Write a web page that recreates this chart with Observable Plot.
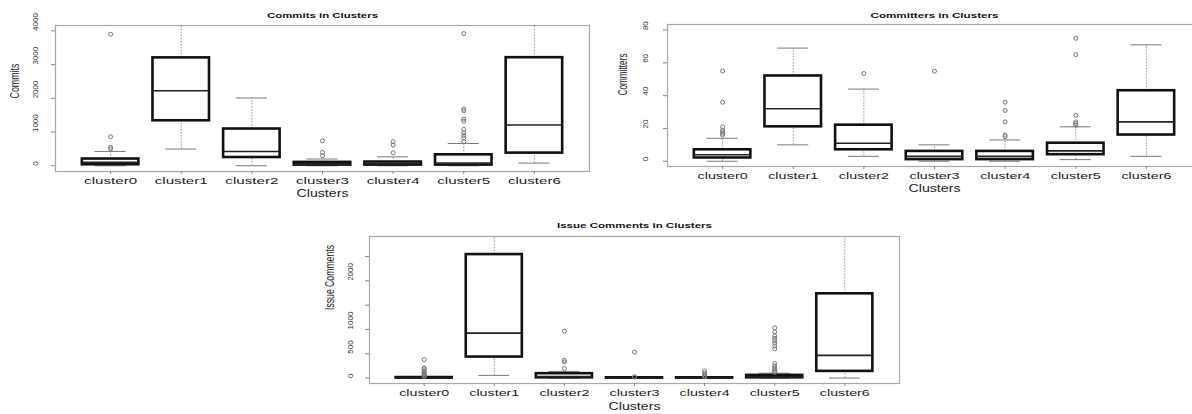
<!DOCTYPE html>
<html>
<head>
<meta charset="utf-8">
<script src="https://cdn.jsdelivr.net/npm/d3@7"></script>
<script src="https://cdn.jsdelivr.net/npm/@observablehq/plot@0.6"></script>
<style>
  html, body { margin: 0; padding: 0; background: #fff; }
  #wrap { position: relative; width: 1192px; height: 414px; overflow: hidden; background: #fff; }
  #wrap svg { position: absolute; overflow: visible; }
</style>
</head>
<body>
<div id="wrap"></div>
<script>
// ---------- data ----------
const clusters = ["cluster0", "cluster1", "cluster2", "cluster3", "cluster4", "cluster5", "cluster6"];

// Commits in Clusters
const commitsLow    = [0, 495, 0, 0, 0, 0, 80];
const commitsQ1     = [30, 1335, 245, 20, 20, 20, 375];
const commitsMedian = [100, 2225, 425, 50, 60, 80, 1210];
const commitsQ3     = [200, 3200, 1090, 100, 110, 325, 3205];
const commitsHigh   = [425, 5500, 2010, 200, 265, 660, 5500];
const commitsOutliers = [
  [500, 545, 860, 3900],
  [],
  [],
  [300, 395, 740],
  [385, 615, 715],
  [720, 830, 900, 980, 1080, 1320, 1385, 1630, 1680, 3920],
  []
];
const commitsTicks = [0, 1000, 2000, 3000, 4000];
const commitsTickLabels = ["0", "1000", "2000", "3000", "4000"];

// Committers in Clusters
const committersLow    = [0, 10, 3, 0, 0, 1, 3];
const committersQ1     = [2, 21, 7, 1, 1, 4, 16];
const committersMedian = [4, 32, 11, 3, 3, 6.3, 24];
const committersQ3     = [7, 52, 22, 6, 6, 11, 43];
const committersHigh   = [14, 69, 44, 10, 13, 21, 71];
const committersOutliers = [
  [16, 17, 18, 19, 21, 36, 55],
  [],
  [53.5],
  [55],
  [15, 16, 24, 31, 36],
  [22, 23, 24, 28, 65, 75],
  []
];
const committersTicks = [0, 20, 40, 60, 80];
const committersTickLabels = ["0", "20", "40", "60", "80"];

// Issue Comments in Clusters
const issueLow    = [0, 55, 0, 0, 0, 0, 0];
const issueQ1     = [0, 432, 5, 0, 0, 5, 137];
const issueMedian = [2, 925, 30, 0, 0, 20, 466];
const issueQ3     = [10, 2540, 90, 5, 5, 55, 1733];
const issueHigh   = [25, 4500, 137, 10, 10, 100, 4500];
const issueOutliers = [
  [30, 40, 50, 60, 80, 100, 120, 150, 190, 210, 380],
  [],
  [195, 330, 365, 965],
  [20, 25, 535],
  [25, 40, 60, 100, 145],
  [115, 130, 160, 200, 250, 300, 600, 660, 720, 770, 820, 870, 950, 1035],
  []
];
const issueTicks = [0, 500, 1000, 1500, 2000, 2500];
const issueTickLabels = ["0", "500", "1000", "", "2000", ""];

// ---------- drawing ----------
const FONT = "'Liberation Sans', Arial, Helvetica, sans-serif";

function panel(cfg) {
  const rows = clusters.map((c, i) => ({
    i: i + 1, name: c,
    lo: cfg.low[i], q1: cfg.q1[i], med: cfg.med[i], q3: cfg.q3[i], hi: cfg.high[i]
  }));
  const pts = cfg.outliers.flatMap((arr, i) => arr.map(v => ({i: i + 1, v})));
  const tickRows = cfg.ticks.map((t, k) => ({t, label: cfg.tickLabels[k]})).filter(d => d.label !== "");

  const svg = Plot.plot({
    width: cfg.width,
    height: cfg.height,
    marginLeft: cfg.margin.left,
    marginRight: cfg.margin.right,
    marginTop: cfg.margin.top,
    marginBottom: cfg.margin.bottom,
    style: {fontFamily: FONT, background: "transparent", color: "#000"},
    x: {domain: [0.22, 7.78], axis: null},
    y: {domain: cfg.domain, axis: null},
    marks: [
      Plot.frame({stroke: "#a8a8a8", strokeWidth: 1.2}),
      // whiskers
      Plot.ruleX(rows, {x: "i", y1: "q3", y2: "hi", stroke: "#8a8a8a", strokeWidth: 0.9, strokeDasharray: "1.5,1.5", clip: true}),
      Plot.ruleX(rows, {x: "i", y1: "lo", y2: "q1", stroke: "#8a8a8a", strokeWidth: 0.9, strokeDasharray: "1.5,1.5", clip: true}),
      // staples
      Plot.ruleY(rows, {y: "hi", x1: d => d.i - 0.22, x2: d => d.i + 0.22, stroke: "#7a7a7a", strokeWidth: 1, clip: true}),
      Plot.ruleY(rows, {y: "lo", x1: d => d.i - 0.22, x2: d => d.i + 0.22, stroke: "#7a7a7a", strokeWidth: 1, clip: true}),
      // boxes
      Plot.rect(rows, {x1: d => d.i - 0.4, x2: d => d.i + 0.4, y1: "q1", y2: "q3", fill: "white", stroke: "#111", strokeWidth: 2.6}),
      // medians
      Plot.ruleY(rows, {y: "med", x1: d => d.i - 0.4, x2: d => d.i + 0.4, stroke: "#222", strokeWidth: 1.6}),
      // outliers
      Plot.dot(pts, {x: "i", y: "v", r: 2, stroke: "#777", strokeWidth: 1, fill: "none", clip: true}),
      // axes
      Plot.axisX({ticks: [1, 2, 3, 4, 5, 6, 7], tickSize: 3, tickFormat: () => "", label: null, stroke: "#888"}),
      Plot.axisY({ticks: cfg.ticks, tickSize: 4, tickFormat: () => "", label: null, stroke: "#888"}),
      Plot.text(rows, {x: "i", text: "name", frameAnchor: "bottom", dy: cfg.xLabelDy, fontSize: 9.5, fill: "#1a1a1a"}),
      Plot.text(tickRows, {y: "t", text: "label", frameAnchor: "left", dx: cfg.yTickDx, rotate: -90, fontSize: 8, fill: "#333"}),
      Plot.text([cfg.title], {frameAnchor: "top", dy: cfg.titleDy, fontSize: 8, fontWeight: "bold", fill: "#111"}),
      Plot.text([cfg.ylabel], {frameAnchor: "left", dx: cfg.yLabelDx, rotate: -90, fontSize: 9, fill: "#222"}),
      Plot.text(["Clusters"], {frameAnchor: "bottom", dy: cfg.xTitleDy, fontSize: 10, fill: "#222"})
    ]
  });

  // stretch texts the way the (horizontally stretched) reference image shows them
  d3.select(svg).selectAll("text").each(function () {
    const s = (this.textContent || "").trim();
    const el = d3.select(this);
    if (clusters.includes(s)) {
      el.attr("textLength", cfg.xTickLen).attr("lengthAdjust", "spacingAndGlyphs");
    } else if (s === cfg.title) {
      el.attr("textLength", cfg.titleLen).attr("lengthAdjust", "spacingAndGlyphs");
    } else if (s === "Clusters") {
      el.attr("textLength", 52).attr("lengthAdjust", "spacingAndGlyphs");
    } else if (s === cfg.ylabel) {
      el.attr("textLength", cfg.yLabelLen).attr("lengthAdjust", "spacingAndGlyphs");
      el.attr("transform", (this.getAttribute("transform") || "") + " scale(1,1.35)");
    }
  });

  svg.style.left = cfg.left + "px";
  svg.style.top = cfg.top + "px";
  document.getElementById("wrap").appendChild(svg);
}

panel({
  left: 0, top: 0, width: 600, height: 205,
  margin: {left: 55, right: 11, top: 25, bottom: 34},
  domain: [-170, 4160],
  low: commitsLow, q1: commitsQ1, med: commitsMedian, q3: commitsQ3, high: commitsHigh, outliers: commitsOutliers,
  ticks: commitsTicks, tickLabels: commitsTickLabels,
  title: "Commits in Clusters", ylabel: "Commits",
  xLabelDy: 12, xTitleDy: 25, titleDy: -13, yTickDx: -20, yLabelDx: -40,
  xTickLen: 53, titleLen: 111, yLabelLen: 35
});

panel({
  left: 600, top: 0, width: 610, height: 205,
  margin: {left: 67, right: 9, top: 24, bottom: 39},
  domain: [-3.2, 83.4],
  low: committersLow, q1: committersQ1, med: committersMedian, q3: committersQ3, high: committersHigh, outliers: committersOutliers,
  ticks: committersTicks, tickLabels: committersTickLabels,
  title: "Committers in Clusters", ylabel: "Committers",
  xLabelDy: 12, xTitleDy: 25, titleDy: -12, yTickDx: -22, yLabelDx: -44,
  xTickLen: 50, titleLen: 128, yLabelLen: 42
});

panel({
  left: 300, top: 205, width: 610, height: 209,
  margin: {left: 69, right: 11, top: 31, bottom: 31},
  domain: [-112, 2912],
  low: issueLow, q1: issueQ1, med: issueMedian, q3: issueQ3, high: issueHigh, outliers: issueOutliers,
  ticks: issueTicks, tickLabels: issueTickLabels,
  title: "Issue Comments in Clusters", ylabel: "Issue Comments",
  xLabelDy: 12.5, xTitleDy: 26, titleDy: -14, yTickDx: -19, yLabelDx: -39,
  xTickLen: 50, titleLen: 155, yLabelLen: 65
});
</script>
</body>
</html>
